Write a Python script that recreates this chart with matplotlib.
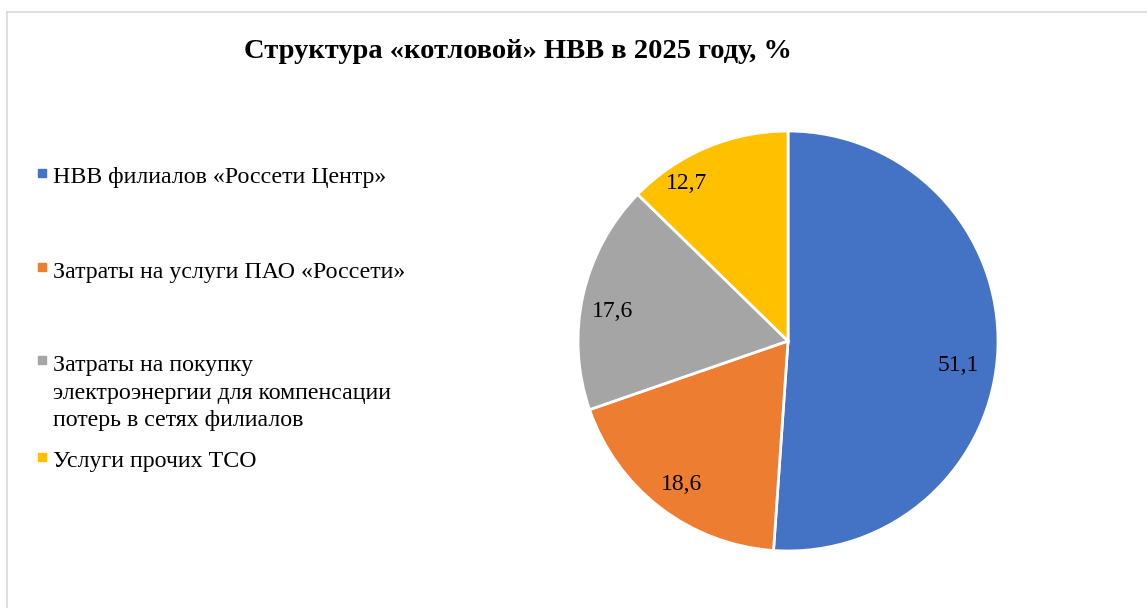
import matplotlib
matplotlib.use('Agg')
import numpy as np
import matplotlib.pyplot as plt
from matplotlib.lines import Line2D

plt.rcParams['font.family'] = ['Liberation Serif', 'DejaVu Serif']

# data
title = 'Структура «котловой» НВВ в 2025 году, %'
categories = ['НВВ филиалов «Россети Центр»',
              'Затраты на услуги ПАО «Россети»',
              'Затраты на покупку\nэлектроэнергии для компенсации\nпотерь в сетях филиалов',
              'Услуги прочих ТСО']
shares = [51.1, 18.6, 17.6, 12.7]
colors = ['#4472C4', '#ED7D31', '#A5A5A5', '#FFC000']

W, H = 1147, 608


def fx(x):
    return x / W


def fy(y):
    return 1 - y / H


fig = plt.figure(figsize=(W / 100, H / 100), dpi=100)

# light frame around the chart area (cut at right / bottom)
fig.add_artist(Line2D([fx(7.5), 1], [fy(11.5), fy(11.5)], color='#D9D9D9', lw=1.2))
fig.add_artist(Line2D([fx(7.5), fx(7.5)], [fy(11.5), 0], color='#D9D9D9', lw=1.2))

fig.text(fx(518), fy(52), title, ha='center', va='center',
         fontsize=20.5, fontweight='bold')

# pie: centre (788, 341) px, radius 210 px
cx, cy, r = 788, 341, 210
ax = fig.add_axes([fx(cx - r), fy(cy + r), 2 * r / W, 2 * r / H])
wedges, _ = ax.pie(shares, colors=colors, startangle=90, counterclock=False,
                   wedgeprops=dict(edgecolor='white', linewidth=2))
ax.set_xlim(-1, 1)
ax.set_ylim(-1, 1)
ax.set_aspect('equal')
ax.axis('off')

# data labels placed along each wedge's bisector
label_r = [0.82, 0.84, 0.85, 0.90]
label_shift = [-5.5, 0.5, 2.3, 9.5]
for w, v, rr, sh in zip(wedges, shares, label_r, label_shift):
    ang = np.deg2rad((w.theta1 + w.theta2) / 2 + sh)
    ax.text(rr * np.cos(ang), rr * np.sin(ang) - 0.01, f'{v:.1f}'.replace('.', ','),
            ha='center', va='center', fontsize=17)

# legend drawn by hand to match the spacing of the original
marker_y = [172.5, 266.5, 359.5, 456.5]
text_y = [178, 272, 393, 462]
for lab, col, my, ty in zip(categories, colors, marker_y, text_y):
    fig.add_artist(Line2D([fx(41.5)], [fy(my)], marker='s', markersize=5.2,
                          color=col, linestyle='none'))
    fig.text(fx(53), fy(ty), lab, ha='left', va='center', fontsize=17.2,
             linespacing=1.42)

fig.savefig('out.png', dpi=100)
